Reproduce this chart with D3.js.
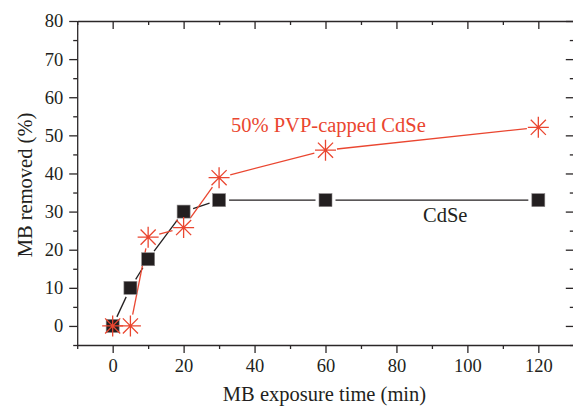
<!DOCTYPE html>
<html>
<head>
<meta charset="utf-8">
<script src="https://cdn.jsdelivr.net/npm/d3@7"></script>
<style>
  html, body { margin: 0; padding: 0; background: #fff; }
  svg { display: block; }
  text { font-family: "Liberation Serif", "DejaVu Serif", serif; }
</style>
</head>
<body>
<svg id="chart" width="573" height="406"></svg>
<script>
// ---- data ----
const times = [0, 5, 10, 20, 30, 60, 120];
const cdse = [0, 10, 17.5, 30, 33, 33, 33];
const pvpCdse = [0, 0, 23.3, 25.8, 38.9, 46.1, 52.1];
const xTicks = [0, 20, 40, 60, 80, 100, 120];
const yTicks = [0, 10, 20, 30, 40, 50, 60, 70, 80];
const seriesNames = ["CdSe", "50% PVP-capped CdSe"];

const W = 573, H = 406;
const svg = d3.select("#chart");
const axisColor = "#2b2728";
const red = "#ea4630";
const black = "#231f20";

const x = d3.scaleLinear().domain([-10, 130]).range([77.2, 573.8]);
const y = d3.scaleLinear().domain([-5, 80]).range([345, 21]);

const xMinor = d3.range(-10, 131, 10).filter(v => !xTicks.includes(v));
const yMinor = d3.range(-5, 81, 5).filter(v => !yTicks.includes(v));

function styleAxis(g) {
  g.selectAll("path.domain").attr("stroke", axisColor).attr("stroke-width", 1.3);
  g.selectAll(".tick line").attr("stroke", axisColor).attr("stroke-width", 1.3);
  g.selectAll(".tick text").attr("fill", black).style("font-size", "18.5px")
    .style("font-family", '"Liberation Serif", serif');
}

// bottom axis
const gB = svg.append("g").attr("transform", `translate(0,${y(-5)})`)
  .call(d3.axisBottom(x).tickValues(xTicks).tickSize(8).tickPadding(6).tickSizeOuter(0));
styleAxis(gB);
svg.append("g").attr("transform", `translate(0,${y(-5)})`)
  .call(d3.axisBottom(x).tickValues(xMinor).tickSize(4).tickFormat("").tickSizeOuter(0))
  .call(g => { g.select("path.domain").remove(); styleAxis(g); });

// top axis
const gT = svg.append("g").attr("transform", `translate(0,${y(80)})`)
  .call(d3.axisTop(x).tickValues(xTicks).tickSize(-8).tickFormat("").tickSizeOuter(0));
styleAxis(gT);
svg.append("g").attr("transform", `translate(0,${y(80)})`)
  .call(d3.axisTop(x).tickValues(xMinor).tickSize(-4).tickFormat("").tickSizeOuter(0))
  .call(g => { g.select("path.domain").remove(); styleAxis(g); });

// left axis
const gL = svg.append("g").attr("transform", `translate(${x(-10)},0)`)
  .call(d3.axisLeft(y).tickValues(yTicks).tickSize(8).tickPadding(6).tickSizeOuter(0));
styleAxis(gL);
svg.append("g").attr("transform", `translate(${x(-10)},0)`)
  .call(d3.axisLeft(y).tickValues(yMinor).tickSize(4).tickFormat("").tickSizeOuter(0))
  .call(g => { g.select("path.domain").remove(); styleAxis(g); });

// right axis
const gR = svg.append("g").attr("transform", `translate(${x(130)},0)`)
  .call(d3.axisRight(y).tickValues(yTicks).tickSize(-8).tickFormat("").tickSizeOuter(0));
styleAxis(gR);
svg.append("g").attr("transform", `translate(${x(130)},0)`)
  .call(d3.axisRight(y).tickValues(yMinor).tickSize(-4).tickFormat("").tickSizeOuter(0))
  .call(g => { g.select("path.domain").remove(); styleAxis(g); });

// axis titles
svg.append("text").attr("x", (x(-10) + x(130)) / 2 - 1).attr("y", 401)
  .attr("text-anchor", "middle").attr("fill", black).style("font-size", "20.5px")
  .text("MB exposure time (min)");
svg.append("text").attr("transform", `translate(32,${(y(-5) + y(80)) / 2 + 2}) rotate(-90)`)
  .attr("text-anchor", "middle").attr("fill", black).style("font-size", "20.5px")
  .text("MB removed (%)");

// lines with gaps around markers
function gappedSegments(vals, gap) {
  const pts = times.map((t, i) => [x(t), y(vals[i])]);
  const segs = [];
  for (let i = 0; i < pts.length - 1; i++) {
    const [x1, y1] = pts[i], [x2, y2] = pts[i + 1];
    const dx = x2 - x1, dy = y2 - y1, L = Math.hypot(dx, dy);
    if (L <= 2 * gap) continue;
    const ux = dx / L, uy = dy / L;
    segs.push([x1 + ux * gap, y1 + uy * gap, x2 - ux * gap, y2 - uy * gap]);
  }
  return segs;
}

svg.append("g").selectAll("line").data(gappedSegments(cdse, 10)).join("line")
  .attr("x1", d => d[0]).attr("y1", d => d[1]).attr("x2", d => d[2]).attr("y2", d => d[3])
  .attr("stroke", black).attr("stroke-width", 1.3);
svg.append("g").selectAll("line").data(gappedSegments(pvpCdse, 11.5)).join("line")
  .attr("x1", d => d[0]).attr("y1", d => d[1]).attr("x2", d => d[2]).attr("y2", d => d[3])
  .attr("stroke", red).attr("stroke-width", 1.3);

// square markers
const sq = 13;
svg.append("g").selectAll("rect").data(times.map((t, i) => [t, cdse[i]])).join("rect")
  .attr("x", d => x(d[0]) - sq / 2).attr("y", d => y(d[1]) - sq / 2)
  .attr("width", sq).attr("height", sq)
  .attr("fill", black).attr("stroke", "#8a8687").attr("stroke-width", 0.6);

// asterisk markers
const r = 10.5, rd = r * 0.72;
const starPath = `M${-r},0L${r},0M0,${-r}L0,${r}M${-rd},${-rd}L${rd},${rd}M${-rd},${rd}L${rd},${-rd}`;
svg.append("g").selectAll("path").data(times.map((t, i) => [t, pvpCdse[i]])).join("path")
  .attr("transform", d => `translate(${x(d[0])},${y(d[1])})`)
  .attr("d", starPath).attr("fill", "none").attr("stroke", red).attr("stroke-width", 1.3);

// series labels
svg.append("text").attr("x", 231).attr("y", 131.5).attr("fill", red)
  .style("font-size", "20.5px").text(seriesNames[1]);
svg.append("text").attr("x", 423).attr("y", 222).attr("fill", black)
  .style("font-size", "20.5px").text(seriesNames[0]);
</script>
</body>
</html>
